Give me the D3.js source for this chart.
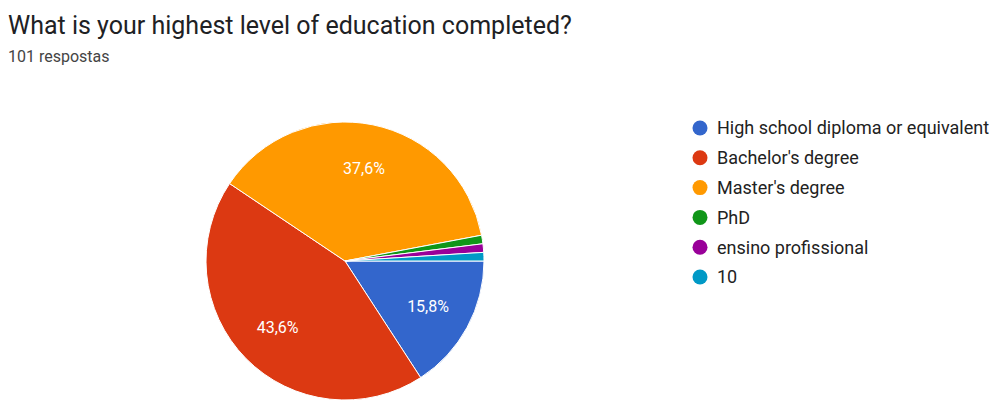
<!DOCTYPE html>
<html>
<head>
<meta charset="utf-8">
<script src="https://cdn.jsdelivr.net/npm/d3@7"></script>
<style>
  body { margin: 0; background: #fff; }
  svg { display: block; font-family: Roboto, Arial, sans-serif; }
</style>
</head>
<body>
<div id="chart"></div>
<script>
// Answers and counts (101 responses)
const categories = ["High school diploma or equivalent", "Bachelor's degree", "Master's degree", "PhD", "ensino profissional", "10"];
const counts = [16, 44, 38, 1, 1, 1];
const colors = ["#3366cc", "#dc3912", "#ff9900", "#109618", "#990099", "#0099c6"];
const title = "What is your highest level of education completed?";
const subtitle = "101 respostas";

function init() {
    const w = 999;
    const h = 403;
    const cx = 345, cy = 261, r = 139; // pie centre and radius

    const svg = d3.select("#chart").append("svg")
        .attr("width", w)
        .attr("height", h);

    svg.append("rect").attr("width", w).attr("height", h).attr("fill", "#fff");

    // Title and response count
    svg.append("text")
        .attr("x", 8).attr("y", 34)
        .attr("font-size", "25px")
        .attr("fill", "#202124")
        .text(title);

    svg.append("text")
        .attr("x", 8).attr("y", 62)
        .attr("font-size", "16px")
        .attr("fill", "#444")
        .text(subtitle);

    const data = categories.map((c, i) => ({ name: c, value: counts[i], color: colors[i] }));
    const total = d3.sum(counts);

    // Pie starts at 3 o'clock, clockwise, no sorting
    const pie = d3.pie()
        .value(d => d.value)
        .sort(null)
        .startAngle(Math.PI / 2)
        .endAngle(Math.PI / 2 + 2 * Math.PI);

    const arc = d3.arc().innerRadius(0).outerRadius(r);
    const labelArc = d3.arc().innerRadius(r * 0.68).outerRadius(r * 0.68);

    const g = svg.append("g").attr("transform", `translate(${cx},${cy})`);

    const arcs = pie(data);

    g.selectAll("path")
        .data(arcs)
        .enter()
        .append("path")
        .attr("d", arc)
        .attr("fill", d => d.data.color)
        .attr("stroke", "#fff")
        .attr("stroke-width", 1);

    // Percentage labels only for the big slices
    g.selectAll("text.pct")
        .data(arcs.filter(d => d.data.value / total > 0.05))
        .enter()
        .append("text")
        .attr("class", "pct")
        .attr("transform", d => `translate(${labelArc.centroid(d)})`)
        .attr("text-anchor", "middle")
        .attr("dy", "0.35em")
        .attr("font-size", "16px")
        .attr("fill", "#fff")
        .text(d => (d.data.value / total * 100).toFixed(1).replace(".", ",") + "%");

    // Legend
    const legend = svg.append("g").attr("transform", "translate(700,128)");
    data.forEach((d, i) => {
        const row = legend.append("g").attr("transform", `translate(0,${i * 29.8})`);
        row.append("circle")
            .attr("r", 7.5)
            .attr("fill", d.color);
        row.append("text")
            .attr("x", 17)
            .attr("dy", "0.36em")
            .attr("font-size", "18px")
            .attr("fill", "#222")
            .text(d.name);
    });
}

window.onload = init;
</script>
</body>
</html>
